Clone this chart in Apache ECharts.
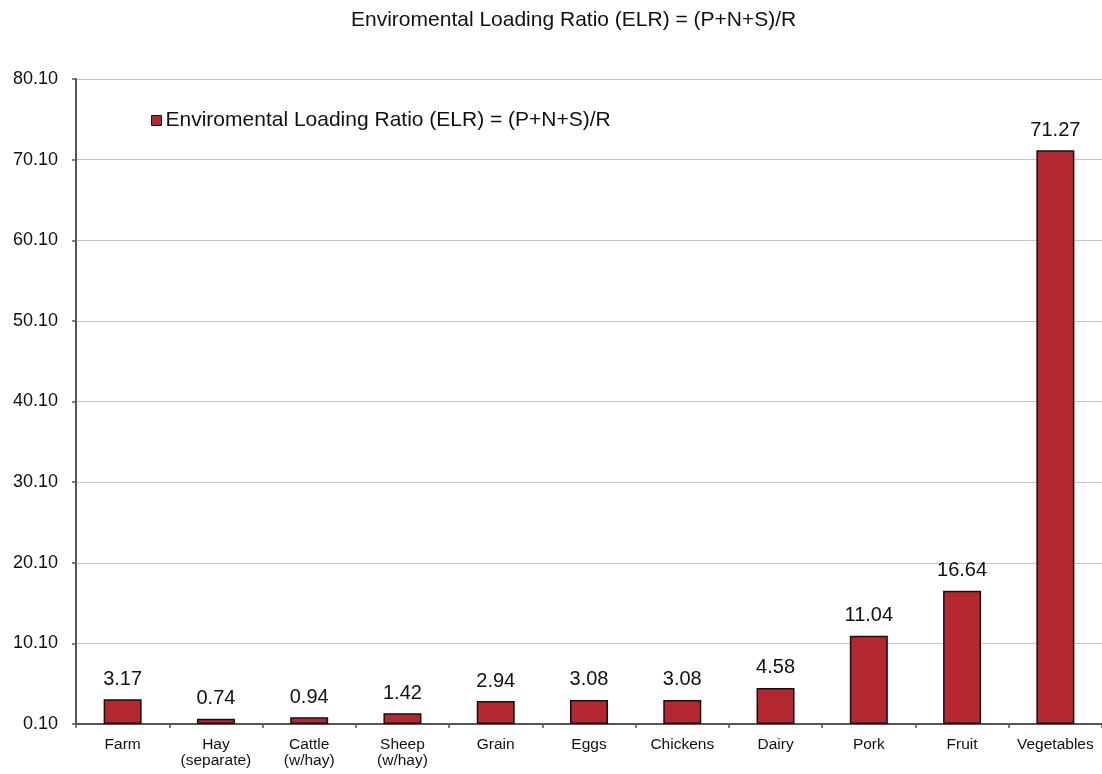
<!DOCTYPE html>
<html>
<head>
<meta charset="utf-8">
<title>Enviromental Loading Ratio (ELR)</title>
<script src="https://cdn.jsdelivr.net/npm/echarts@6/dist/echarts.min.js"></script>
<style>
  html, body { margin: 0; padding: 0; background: #ffffff; }
  #chart { width: 1102px; height: 774px; }
</style>
</head>
<body>
<div id="chart"></div>
<script>
// Chart data
const chartTitle = 'Enviromental Loading Ratio (ELR) = (P+N+S)/R';
const seriesName = 'Enviromental Loading Ratio (ELR) = (P+N+S)/R';
const categories = ['Farm', 'Hay\n(separate)', 'Cattle\n(w/hay)', 'Sheep\n(w/hay)', 'Grain', 'Eggs', 'Chickens', 'Dairy', 'Pork', 'Fruit', 'Vegetables'];
const elrValues = [3.17, 0.74, 0.94, 1.42, 2.94, 3.08, 3.08, 4.58, 11.04, 16.64, 71.27];
// The value axis starts at 0.10 and steps by 10 (0.10, 10.10 ... 80.10)
const axisBase = 0.10;
const axisStep = 10;
const axisSpan = 80;

const FONT = "'Liberation Sans', Arial, Helvetica, sans-serif";
const BAR_COLOR = '#b5282f';

const chart = echarts.init(document.getElementById('chart'), null, { renderer: 'canvas' });

chart.setOption({
  backgroundColor: '#ffffff',
  animation: false,
  title: {
    text: chartTitle,
    left: 346,
    top: 5,
    textStyle: { fontFamily: FONT, fontSize: 21, fontWeight: 'normal', color: '#111' }
  },
  legend: {
    left: 146,
    top: 105,
    icon: 'rect',
    itemWidth: 10,
    itemHeight: 10,
    itemGap: 5,
    textStyle: { fontFamily: FONT, fontSize: 21, color: '#111', padding: [0, 0, 0, -1] },
    itemStyle: { color: BAR_COLOR, borderColor: '#111', borderWidth: 1 },
    data: [seriesName]
  },
  grid: { left: 76, right: 0, top: 79, bottom: 50, containLabel: false },
  xAxis: {
    type: 'category',
    data: categories,
    axisLine: { show: true, lineStyle: { color: '#555', width: 2 } },
    axisTick: { show: true, alignWithLabel: false, length: 4, lineStyle: { color: '#555', width: 1.5 } },
    axisLabel: {
      interval: 0,
      margin: 13,
      fontFamily: FONT,
      fontSize: 15.5,
      lineHeight: 16,
      color: '#111'
    },
    splitLine: { show: false }
  },
  yAxis: {
    type: 'value',
    min: 0,
    max: axisSpan,
    interval: axisStep,
    axisLine: { show: true, lineStyle: { color: '#555', width: 2 } },
    axisTick: { show: true, length: 4, lineStyle: { color: '#555', width: 1.5 } },
    axisLabel: {
      margin: 18,
      fontFamily: FONT,
      fontSize: 18,
      color: '#111',
      formatter: v => (v + axisBase).toFixed(2)
    },
    splitLine: { show: true, lineStyle: { color: '#c4c4c4', width: 1.2 } }
  },
  series: [{
    name: seriesName,
    type: 'bar',
    barWidth: 38,
    // bars rise from the 0.10 baseline of the value axis
    data: elrValues.map(v => v - axisBase),
    itemStyle: { color: BAR_COLOR, borderColor: '#111', borderWidth: 1.5 },
    label: {
      show: true,
      position: 'top',
      distance: 10,
      fontFamily: FONT,
      fontSize: 20,
      color: '#111',
      formatter: p => elrValues[p.dataIndex].toFixed(2)
    }
  }]
});
</script>
</body>
</html>
